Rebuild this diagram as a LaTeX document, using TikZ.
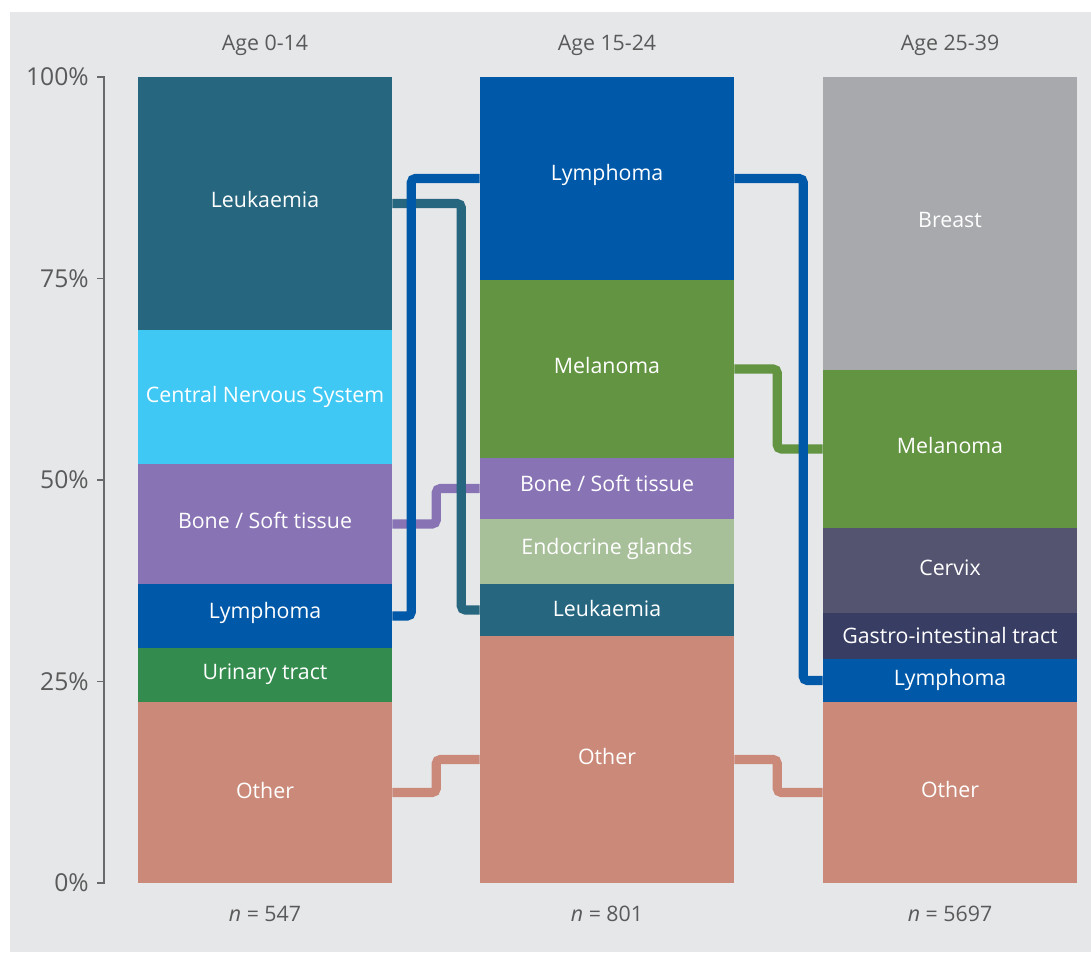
\documentclass[tikz,border=0pt]{standalone}
\usepackage{fontspec}
\setmainfont{Open Sans}
\usetikzlibrary{fit}
\definecolor{bg}{HTML}{E6E7E9}
\definecolor{cleuk}{HTML}{27667F}
\definecolor{ccns}{HTML}{40C8F4}
\definecolor{cbone}{HTML}{8873B4}
\definecolor{clym}{HTML}{0058A8}
\definecolor{curi}{HTML}{338C4E}
\definecolor{coth}{HTML}{CB8A79}
\definecolor{cmel}{HTML}{629441}
\definecolor{cendo}{HTML}{A8C09A}
\definecolor{cbre}{HTML}{A8A9AD}
\definecolor{ccer}{HTML}{545370}
\definecolor{cgi}{HTML}{383D63}
\definecolor{txt}{HTML}{5A5A5A}
\definecolor{axis}{HTML}{6A6A6A}
\tikzset{
  seg/.style={inner sep=0pt, draw=none, text=white, font=\fontsize{16}{18}\selectfont},
  conn/.style={line width=6.8pt, rounded corners=3pt},
  lab/.style={text=txt, font=\fontsize{16}{18}\selectfont, inner sep=0pt},
  ticklab/.style={text=txt, font=\fontsize{18.5}{20}\selectfont, inner sep=0pt},
  tick/.style={draw=axis, line width=1pt},
}
\begin{document}
\begin{tikzpicture}[x=0.75pt,y=-0.75pt]
\useasboundingbox (0,0) rectangle (1091,953);
\fill[white] (0,0) rectangle (1091,953);
\fill[bg] (10,12) rectangle (1091,952);
% axis
\draw[tick] (97,77) -- (104,77) -- (104,883) -- (97,883);
\foreach \y/\t/\n in {77/100\%/t100, 278.5/75\%/t75, 480/50\%/t50, 681.5/25\%/t25, 883/0\%/t0}{
  \draw[tick] (97,\y) -- (104,\y);
  \node[ticklab, anchor=east] (\n) at (89,\y) {\t};
}
% headers
\node[lab] (h1) at (265,45) {Age 0-14};
\node[lab] (h2) at (607,45) {Age 15-24};
\node[lab] (h3) at (950,45) {Age 25-39};
\node[lab] (n1) at (265,914) {\textit{n} = 547};
\node[lab] (n2) at (607,914) {\textit{n} = 801};
\node[lab] (n3) at (950,914) {\textit{n} = 5697};
% left bar
\node[seg, fill=cleuk, fit={(138,77)(392,330)}] (leukL) {};
\node[seg, fill=ccns, fit={(138,330)(392,464)}] (cnsL) {};
\node[seg, fill=cbone, fit={(138,464)(392,584)}] (boneL) {};
\node[seg, fill=clym, fit={(138,584)(392,648)}] (lymL) {};
\node[seg, fill=curi, fit={(138,648)(392,702)}] (uriL) {};
\node[seg, fill=coth, fit={(138,702)(392,883)}] (othL) {};
% middle bar
\node[seg, fill=clym, fit={(480,77)(734,280)}] (lymM) {};
\node[seg, fill=cmel, fit={(480,280)(734,458)}] (melM) {};
\node[seg, fill=cbone, fit={(480,458)(734,519)}] (boneM) {};
\node[seg, fill=cendo, fit={(480,519)(734,584)}] (endoM) {};
\node[seg, fill=cleuk, fit={(480,584)(734,636)}] (leukM) {};
\node[seg, fill=coth, fit={(480,636)(734,883)}] (othM) {};
% right bar
\node[seg, fill=cbre, fit={(823,77)(1077,370)}] (breR) {};
\node[seg, fill=cmel, fit={(823,370)(1077,528)}] (melR) {};
\node[seg, fill=ccer, fit={(823,528)(1077,613)}] (cerR) {};
\node[seg, fill=cgi, fit={(823,613)(1077,659)}] (giR) {};
\node[seg, fill=clym, fit={(823,659)(1077,702)}] (lymR) {};
\node[seg, fill=coth, fit={(823,702)(1077,883)}] (othR) {};
% labels
\foreach \s/\t/\d in {leukL/Leukaemia/4, cnsL/Central Nervous System/0, boneL/{Bone / Soft tissue}/4, lymL/Lymphoma/3, uriL/Urinary tract/1, othL/Other/2,
  lymM/Lymphoma/4, melM/Melanoma/4, boneM/{Bone / Soft tissue}/5, endoM/Endocrine glands/3, leukM/Leukaemia/2, othM/Other/3,
  breR/Breast/4, melR/Melanoma/4, cerR/Cervix/3, giR/Gastro-intestinal tract/1, lymR/Lymphoma/1, othR/Other/3}{
  \node[seg] (\s-t) at ([yshift=\d*0.75pt]\s.center) {\t};
}
% connectors
\draw[conn, coth] (othL.east) -- ++(44,0) |- (othM.west);
\draw[conn, coth] (othM.east) -- ++(43,0) |- (othR.west);
\draw[conn, cbone] (boneL.east) -- ++(44,0) |- (boneM.west);
\draw[conn, cleuk] (leukL.east) -- ++(69,0) |- (leukM.west);
\draw[conn, clym] (lymL.east) -- ++(19,0) |- (lymM.west);
\draw[conn, cmel] (melM.east) -- ++(43,0) |- (melR.west);
\draw[conn, clym] (lymM.east) -- ++(69,0) |- (lymR.west);
\end{tikzpicture}
\end{document}
